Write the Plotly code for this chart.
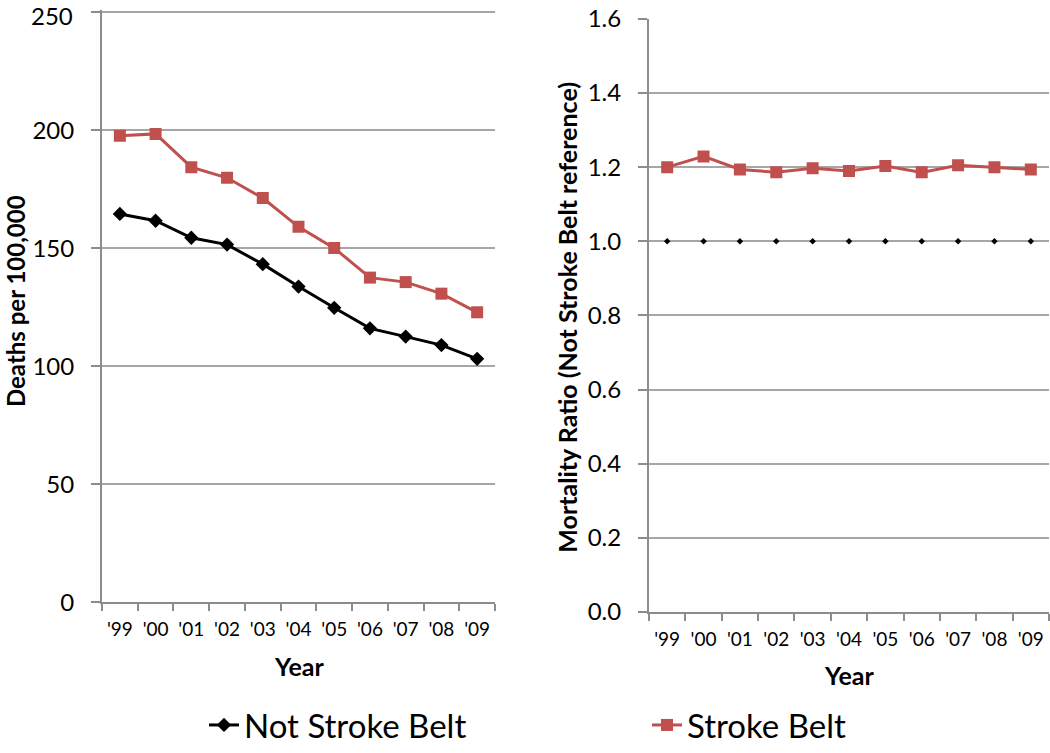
import plotly.graph_objects as go

years = ["'99", "'00", "'01", "'02", "'03", "'04", "'05", "'06", "'07", "'08", "'09"]
stroke_belt = [197.6, 198.4, 184.3, 179.8, 171.2, 159.0, 150.0, 137.5, 135.6, 130.7, 122.8]
not_stroke_belt = [164.5, 161.6, 154.4, 151.5, 143.2, 133.7, 124.7, 116.0, 112.5, 108.9, 103.1]
ratio_stroke_belt = [1.200, 1.229, 1.194, 1.186, 1.197, 1.190, 1.203, 1.186, 1.205, 1.200, 1.194]
ratio_reference = [1.0] * 11
left_ticks = [0, 50, 100, 150, 200, 250]
right_ticks = [0.0, 0.2, 0.4, 0.6, 0.8, 1.0, 1.2, 1.4, 1.6]

RED = "#c0504d"
FONT = "Lato"
GRID = "#a6a6a6"
AXIS = "#8c8c8c"

W, H = 1050, 753

fig = go.Figure()

fig.add_trace(go.Scatter(x=years, y=not_stroke_belt, mode="lines+markers", name="Not Stroke Belt",
                         line=dict(color="black", width=3),
                         marker=dict(symbol="diamond", size=11, color="black"),
                         xaxis="x", yaxis="y", legend="legend"))
fig.add_trace(go.Scatter(x=years, y=stroke_belt, mode="lines+markers", name="Stroke Belt",
                         line=dict(color=RED, width=3),
                         marker=dict(symbol="square", size=12, color=RED),
                         xaxis="x", yaxis="y", legend="legend2"))
fig.add_trace(go.Scatter(x=years, y=ratio_reference, mode="markers", name="Not Stroke Belt (reference)",
                         marker=dict(symbol="diamond", size=5, color="black"),
                         xaxis="x2", yaxis="y2", showlegend=False))
fig.add_trace(go.Scatter(x=years, y=ratio_stroke_belt, mode="lines+markers", name="Stroke Belt ratio",
                         line=dict(color=RED, width=3),
                         marker=dict(symbol="square", size=12, color=RED),
                         xaxis="x2", yaxis="y2", showlegend=False))

def px_x(p):
    return p / W

def px_y(p):
    return 1 - p / H

TICKFONT_Y = dict(family=FONT, size=24, color="black")

xcommon = dict(type="category", range=[-0.5, 10.5], showline=True, linecolor=AXIS, linewidth=2,
               ticks="outside", tickson="boundaries", ticklen=7, tickcolor=AXIS, tickwidth=2,
               showgrid=False, tickangle=0, tickfont=dict(family=FONT, size=19, color="black"),
               automargin=False, ticklabelstandoff=9)
ycommon = dict(showline=True, linecolor=AXIS, linewidth=2, ticks="outside", ticklen=9,
               tickcolor=AXIS, tickwidth=2, showgrid=True, gridcolor=GRID, gridwidth=2,
               zeroline=False, tickfont=TICKFONT_Y,
               automargin=False, ticklabelstandoff=12)

# top label of the left axis sits at the page edge; plotly hides such tick labels,
# so it is written as a text annotation anchored to the axis value instead
left_ticktext = [str(v) for v in left_ticks[:-1]] + [""]

fig.update_layout(
    width=W, height=H,
    margin=dict(l=0, r=0, t=0, b=0),
    paper_bgcolor="white", plot_bgcolor="white",
    xaxis=dict(domain=[px_x(102), px_x(495)], anchor="y", **xcommon),
    yaxis=dict(domain=[px_y(616), px_y(10)], anchor="x", range=[0, 251], tickvals=left_ticks,
               ticktext=left_ticktext, **ycommon),
    xaxis2=dict(domain=[px_x(649), px_x(1049)], anchor="y2", **xcommon),
    yaxis2=dict(domain=[px_y(626), px_y(19)], anchor="x2", range=[0, 1.601], tickvals=right_ticks,
                tickformat=".1f", **ycommon),
    legend=dict(x=px_x(204), y=px_y(742), xanchor="left", yanchor="middle", orientation="h",
                font=dict(family=FONT, size=33, color="black"), bgcolor="rgba(0,0,0,0)", itemwidth=30),
    legend2=dict(x=px_x(647), y=px_y(742), xanchor="left", yanchor="middle", orientation="h",
                 font=dict(family=FONT, size=33, color="black"), bgcolor="rgba(0,0,0,0)", itemwidth=30),
    annotations=[
        dict(text=str(left_ticks[-1]), x=px_x(75), xanchor="right", y=left_ticks[-1], yref="y", yanchor="middle",
             yshift=-3, xref="paper", showarrow=False, font=TICKFONT_Y),
        dict(text="<b>Deaths per 100,000</b>", textangle=-90, x=px_x(15), y=px_y(308), xref="paper", yref="paper",
             xanchor="center", yanchor="middle", showarrow=False, font=dict(family=FONT, size=24, color="black")),
        dict(text="<b>Mortality Ratio (Not Stroke Belt reference)</b>", textangle=-90, x=px_x(567), y=px_y(325),
             xref="paper", yref="paper", xanchor="center", yanchor="middle", showarrow=False,
             font=dict(family=FONT, size=25, color="black")),
        dict(text="<b>Year</b>", x=px_x(299), y=px_y(681), xref="paper", yref="paper", xanchor="center",
             yanchor="middle", showarrow=False, font=dict(family=FONT, size=25, color="black")),
        dict(text="<b>Year</b>", x=px_x(849), y=px_y(691), xref="paper", yref="paper", xanchor="center",
             yanchor="middle", showarrow=False, font=dict(family=FONT, size=25, color="black")),
    ],
)

fig.write_html(
    "out.html",
    config={"displayModeBar": False},
    post_script=(
        "document.documentElement.style.overflow='hidden';"
        "document.body.style.margin='0';document.body.style.overflow='hidden';"
    ),
)
